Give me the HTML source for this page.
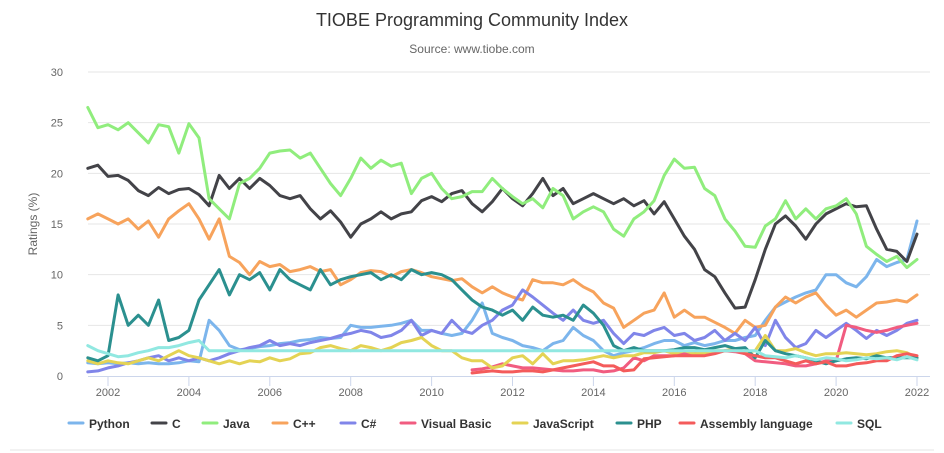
<!DOCTYPE html>
<html><head><meta charset="utf-8">
<style>
html,body{margin:0;padding:0;background:#fff;}
svg{display:block;font-family:"Liberation Sans","DejaVu Sans",sans-serif;}
</style></head>
<body>
<svg id="chart" width="944" height="453" viewBox="0 0 944 453">
<text x="472" y="26" text-anchor="middle" font-size="18" fill="#333">TIOBE Programming Community Index</text>
<text x="472" y="53" text-anchor="middle" font-size="12" fill="#666">Source: www.tiobe.com</text>
<text transform="translate(37,224) rotate(-90)" text-anchor="middle" font-size="12" fill="#666">Ratings (%)</text>
<g id="grid"></g><g id="series"></g><g id="legend"></g>
<line x1="10" y1="450" x2="934" y2="450" stroke="#e6e6e6" stroke-width="1"/>
</svg>
<script>
const yTicks=[0,5,10,15,20,25,30];
const xTicks=[2002,2004,2006,2008,2010,2012,2014,2016,2018,2020,2022];
const seriesNames=["Python","C","Java","C++","C#","Visual Basic","JavaScript","PHP","Assembly language","SQL"];
const seriesColors=["#7cb5ec","#434348","#90ed7d","#f7a35c","#8085e9","#f15c80","#e4d354","#2b908f","#f45b5b","#91e8e1"];
const seriesStart=[2001.5,2001.5,2001.5,2001.5,2001.5,2011,2001.5,2001.5,2011,2001.5];
const python=[1.3,1.2, 1.3,1.2,1.3,1.2, 1.3,1.2,1.2,1.3, 1.5,1.4,5.5,4.5, 3,2.6,2.7,2.9, 3,3.2,3.3,3.5, 3.6,3.8,3.7,3.8, 5,4.8,4.8,4.9, 5,5.2,5.5,4.5, 4.5,4.2,4,4.2, 5.5,7.2,4.2,3.8, 3.5,3,2.8,2.5, 3.2,3.5,4.8,4, 3.5,2.5,2,2.3, 2.5,2.8,3.2,3.5, 3.5,3,3.3,3, 3.2,3.5,3.5,3.8, 4,5.5,6.8,7.3, 7.8,8.2,8.5,10, 10,9.2,8.8,9.8, 11.5,10.8,11.2,11.5, 15.3];
const cLang=[20.5,20.8, 19.7,19.8,19.3,18.3, 17.8,18.6,18,18.4, 18.5,17.9,16.8,19.8, 18.5,19.5,18.5,19.5, 18.8,17.8,17.5,17.8, 16.5,15.5,16.3,15.2, 13.7,15,15.5,16.2, 15.5,16,16.2,17.3, 17.7,17.2,18,18.3, 17,16.2,17.2,18.5, 17.5,16.8,18,19.5, 17.8,18.5,17,17.5, 18,17.5,17,17.5, 16.8,17.3,16,17.2, 15.5,13.8,12.5,10.5, 9.8,8.2,6.7,6.8, 9.5,12.5,15,15.8, 14.8,13.5,15,16, 16.5,17,16.7,16.8, 14.5,12.5,12.3,11.3, 14];
const java=[26.5,24.5, 24.8,24.3,25,24, 23,24.8,24.6,22, 24.9,23.5,17.5,16.5, 15.5,19,19.5,20.5, 22,22.2,22.3,21.5, 22,20.5,19,17.8, 19.5,21.5,20.5,21.3, 20.7,21,18,19.5, 20,18.5,17.5,17.7, 18.2,18.2,19.5,18.5, 17.7,17,17.5,16.6, 18.5,17.8,15.5,16.2, 16.7,16.2,14.5,13.8, 15.5,16.2,17.3,19.8, 21.4,20.5,20.6,18.5, 17.8,15.5,14.3,12.8, 12.7,14.8,15.5,17.3, 15.5,16.5,15.5,16.5, 16.8,17.5,16,12.8, 12,11.3,11.8,10.7, 11.5];
const cpp=[15.5,16, 15.5,15,15.5,14.5, 15.3,13.7,15.5,16.3, 17,15.5,13.5,15.5, 11.8,11.2,10,11.3, 10.8,11,10.3,10.5, 10.8,10.3,10.5,9, 9.5,10.2,10.4,10.3, 9.8,10.3,10.5,10.2, 9.8,9.6,9.4,9.6, 8.8,8.2,8.8,8.2, 7.8,7.5,9.5,9.2, 9.2,9,9.5,8.8, 8.3,7.2,6.7,4.8, 5.5,6.2,6.5,8.2, 5.8,6.5,5.8,5.8, 5.3,4.8,4.2,5.5, 4.8,5,6.8,7.8, 7.2,7.8,8.2,7, 6,6.5,5.8,6.5, 7.2,7.3,7.5,7.3, 8];
const csharp=[0.4,0.5, 0.8,1,1.3,1.5, 1.8,2,1.5,1.8, 1.5,1.8,1.5,1.8, 2.2,2.5,2.8,3, 3.5,3,3.2,3, 3.3,3.5,3.7,4, 4.2,4.5,4.3,3.8, 4,4.5,5.5,4, 4.5,4.2,5.5,4.5, 4.2,5,5.5,6.5, 7,8.5,7.8,7, 6.2,5.5,6.5,5.5, 5.2,5.5,4.2,3.2, 4.2,4,4.5,4.8, 4,4.2,3.5,3.8, 4.5,3.5,4.2,3.5, 4.8,3,5.5,3.8, 2.8,3.2,4.5,3.8, 4.5,5.2,4.5,3.7, 4.5,4,4.5,5.2, 5.5];
const vbasic=[0.6,0.7,0.9,1.2, 1,0.8,0.8,0.7, 0.6,0.5,0.5,0.6, 0.6,0.4,0.5,0.8, 1.8,1.5,2,2, 2,2.2,2.3,2.3, 2.3,2.5,2.4,2.2, 1.5,1.4,1.3,1.2, 1,1,1.2,1.5, 1.5,5,4.8,4.5, 4.3,4.5,4.8,5, 5.2];
const javascript=[1.5,1.2, 1.5,1.3,1.2,1.5, 1.8,1.5,2,2.5, 2,1.8,1.5,1.2, 1.5,1.2,1.5,1.4, 1.8,1.5,1.7,2.2, 2.3,2.8,3,2.7, 2.5,3,2.8,2.5, 2.8,3.3,3.5,3.8, 3,2.5,2.5,1.8, 1.5,1.5,0.8,1, 1.8,2,1.2,2.2, 1.2,1.5,1.5,1.6, 1.8,2,1.8,2, 2,2.3,2.3,2.5, 2.2,2.5,2.2,2.3, 2.5,2.5,2.7,2.3, 2.5,4,2.5,2.5, 2.7,2.3,2,2.2, 2.2,2.3,2.2,2.1, 2.2,2.4,2.5,2.3, 1.8];
const php=[1.8,1.5, 2,8,5,6, 5,7.5,3.5,3.8, 4.5,7.5,9,10.5, 8,10,9.5,10.2, 8.5,10.5,9.5,9, 8.5,10.5,9,9.5, 9.8,10,10.2,9.5, 10,9.5,10.5,10, 10.2,10,9.5,8.5, 7.5,6.8,6.5,6, 6.5,5.5,6.8,6, 5.8,6,5.5,7, 6.2,5,3,2.5, 2.8,2.5,2.5,2.5, 2.6,2.8,2.8,2.6, 2.8,3,2.7,2.8, 1.8,3.5,2.5,2.2, 2,1.8,1.5,1.2, 1.5,1.7,1.8,1.7, 2,1.8,1.8,1.8, 1.8];
const assembly=[0.3,0.4,0.5,0.4, 0.4,0.5,0.5,0.4, 0.6,0.8,1,1.2, 1.4,1,1,0.5, 0.6,1.7,1.8,1.9, 2,2,2,2, 2.2,2.5,2.5,2.2, 2,1.8,1.8,1.5, 1.2,1.5,1.2,1.4, 1,1,1.2,1.3, 1.5,1.5,2,2.2, 2];
const sql=[3,2.5, 2.2,1.9,2,2.3, 2.5,2.8,2.8,3, 3.3,3.5,2.5,2.5, 2.5,2.5,2.5,2.5, 2.5,2.5,2.5,2.5, 2.5,2.5,2.5,2.5, 2.5,2.5,2.5,2.5, 2.5,2.5,2.5,2.5, 2.5,2.5,2.5,2.5, 2.5,2.5,2.5,2.5, 2.5,2.5,2.5,2.5, 2.5,2.5,2.5,2.5, 2.5,2.5,2.5,2.5, 2.5,2.5,2.5,2.5, 2.5,2.5,2.5,2.5, 2.5,2.5,2.5,2.5, 2.5,2,1.9,1.8, 2,1.8,1.6,1.8, 1.7,1.5,1.6,1.8, 1.7,1.8,1.6,1.9, 1.6];
const allSeries=[python,cLang,java,cpp,csharp,vbasic,javascript,php,assembly,sql];
const STEP=0.25;
const NS="http://www.w3.org/2000/svg";
function xScale(yr){return 108+(yr-2002)*40.45;}
function yScale(v){return 376-v*(304/30);}
function mk(tag,attrs,parent){const e=document.createElementNS(NS,tag);for(const k in attrs)e.setAttribute(k,attrs[k]);parent.appendChild(e);return e;}
const grid=document.getElementById('grid');
yTicks.forEach(t=>{
  const y=yScale(t);
  if(t>0){const l=mk('line',{x1:88,x2:930,y1:y,y2:y,stroke:'#e6e6e6'},grid);
  
  }
  const tx=mk('text',{x:63,y:y+4,'text-anchor':'end','font-size':11,fill:'#666'},grid);
  tx.textContent=t;
  
  
});
const ax=mk('line',{x1:88,x2:930,y1:376.5,y2:376.5,stroke:'#ccd6eb'},grid);


xTicks.forEach(t=>{
  const x=xScale(t);
  const tk=mk('line',{x1:x,x2:x,y1:376,y2:386,stroke:'#ccd6eb'},grid);
  
  
  const tx=mk('text',{x:x,y:396,'text-anchor':'middle','font-size':11,fill:'#666'},grid);
  tx.textContent=t;
  
  
});
const sg=document.getElementById('series');
allSeries.forEach((arr,si)=>{
  const pts=arr.map((v,i)=>xScale(seriesStart[si]+i*STEP).toFixed(1)+','+yScale(v).toFixed(1)).join(' ');
  const p=mk('polyline',{points:pts,fill:'none',stroke:seriesColors[si],'stroke-width':3,'stroke-linejoin':'round','stroke-linecap':'round'},sg);
  
  
});
const legendX=[69,152,203,273,341,401,513,617,680,837];
const lg=document.getElementById('legend');
seriesNames.forEach((n,i)=>{
  const g=mk('g',{},lg);
  
  
  mk('line',{x1:legendX[i],x2:legendX[i]+14,y1:423,y2:423,stroke:seriesColors[i],'stroke-width':3,'stroke-linecap':'round'},g);
  const t=mk('text',{x:legendX[i]+20,y:428,'font-size':12,'font-weight':'bold',fill:'#333'},g);
  t.textContent=n;
});
</script>
</body></html>
